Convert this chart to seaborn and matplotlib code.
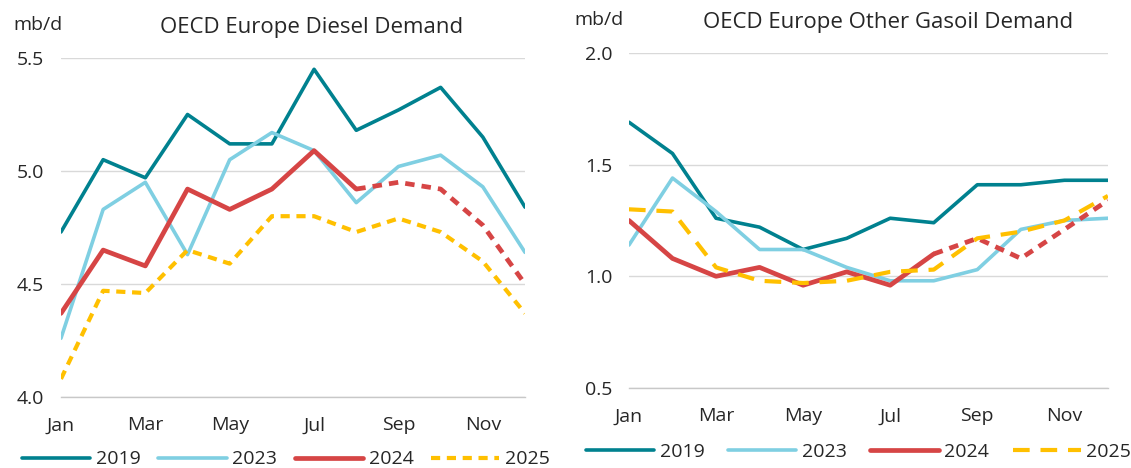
import matplotlib

matplotlib.use("Agg")
import matplotlib.pyplot as plt
import pandas as pd
import seaborn as sns

MONTHS = ["Jan", "Feb", "Mar", "Apr", "May", "Jun",
          "Jul", "Aug", "Sep", "Oct", "Nov", "Dec"]
YEARS = ["2019", "2023", "2024", "2025"]

# OECD Europe diesel demand, mb/d
diesel_2019 = [4.73, 5.05, 4.97, 5.25, 5.12, 5.12, 5.45, 5.18, 5.27, 5.37, 5.15, 4.84]
diesel_2023 = [4.26, 4.83, 4.95, 4.63, 5.05, 5.17, 5.09, 4.86, 5.02, 5.07, 4.93, 4.64]
diesel_2024 = [4.37, 4.65, 4.58, 4.92, 4.83, 4.92, 5.09, 4.92, 4.95, 4.92, 4.76, 4.50]
diesel_2025 = [4.08, 4.47, 4.46, 4.65, 4.59, 4.80, 4.80, 4.73, 4.79, 4.73, 4.60, 4.37]

# OECD Europe other gasoil demand, mb/d
gasoil_2019 = [1.69, 1.55, 1.26, 1.22, 1.12, 1.17, 1.26, 1.24, 1.41, 1.41, 1.43, 1.43]
gasoil_2023 = [1.14, 1.44, 1.29, 1.12, 1.12, 1.04, 0.98, 0.98, 1.03, 1.21, 1.25, 1.26]
gasoil_2024 = [1.25, 1.08, 1.00, 1.04, 0.96, 1.02, 0.96, 1.10, 1.17, 1.08, 1.21, 1.34]
gasoil_2025 = [1.30, 1.29, 1.04, 0.98, 0.97, 0.98, 1.02, 1.03, 1.17, 1.20, 1.25, 1.36]

# 2024 is actual data up to this month, forecast afterwards
LAST_ACTUAL_2024 = 7

COLORS = {"2019": "#00818F", "2023": "#7FCFE2", "2024": "#D64545", "2025": "#FFC000"}
FONT = ["Open Sans", "DejaVu Sans"]


def draw_panel(ax, series, title, yticks, layout):
    x = list(range(len(MONTHS)))
    for year in YEARS:
        df = pd.DataFrame({"month": x, "value": series[year]})
        if year == "2025":
            sns.lineplot(data=df, x="month", y="value", ax=ax, color=COLORS[year],
                         linewidth=3.0, linestyle=(0, layout["dash_2025"]), label=year)
        elif year == "2024":
            actual = df.iloc[: LAST_ACTUAL_2024 + 1]
            forecast = df.iloc[LAST_ACTUAL_2024:]
            sns.lineplot(data=actual, x="month", y="value", ax=ax, color=COLORS[year],
                         linewidth=3.4, label=year)
            sns.lineplot(data=forecast, x="month", y="value", ax=ax, color=COLORS[year],
                         linewidth=3.4, linestyle=(0, (2.0, 1.5)), label="_nolegend_")
        else:
            sns.lineplot(data=df, x="month", y="value", ax=ax, color=COLORS[year],
                         linewidth=2.6, label=year)

    ax.set_xlim(0, len(MONTHS) - 1)
    ax.set_ylim(yticks[0], yticks[-1])
    ax.set_yticks(yticks)
    ax.set_yticklabels([f"{t:.1f}" for t in yticks], fontsize=14, family=FONT)
    ax.set_xticks(x)
    ax.set_xticklabels([m if i % 2 == 0 else "" for i, m in enumerate(MONTHS)],
                       fontsize=14, family=FONT)
    ax.set_xlabel("")
    ax.set_ylabel("")
    ax.grid(axis="y", color="#D9D9D9", linewidth=1.0)
    ax.grid(axis="x", visible=False)
    for side in ["top", "right", "left"]:
        ax.spines[side].set_visible(False)
    ax.spines["bottom"].set_color("#C8C8C8")
    ax.spines["bottom"].set_linewidth(1.0)
    ax.tick_params(axis="x", length=4, color="#C8C8C8", pad=10)
    ax.tick_params(axis="y", length=0, pad=12)
    ax.set_title(title, fontsize=16, family=FONT, x=layout["title_x"], y=1.0, pad=18)
    ax.text(layout["unit_x"], layout["unit_y"], "mb/d", transform=ax.transAxes,
            fontsize=14, family=FONT, ha="left", va="center")

    handles, labels = ax.get_legend_handles_labels()
    ax.legend(handles, labels, loc="center", bbox_to_anchor=(layout["legend_x"], layout["legend_y"]),
              ncol=4, frameon=False, prop={"family": FONT, "size": 14},
              handlelength=3.5, columnspacing=layout["colspace"], handletextpad=0.3)


def main():
    sns.set_theme(style="white")
    plt.rcParams["font.family"] = FONT

    fig = plt.figure(figsize=(11.31, 4.68), dpi=100)
    ax1 = fig.add_axes([0.0539, 0.1517, 0.4103, 0.7244])
    ax2 = fig.add_axes([0.5561, 0.171, 0.4235, 0.7158])

    diesel = {"2019": diesel_2019, "2023": diesel_2023, "2024": diesel_2024, "2025": diesel_2025}
    gasoil = {"2019": gasoil_2019, "2023": gasoil_2023, "2024": gasoil_2024, "2025": gasoil_2025}

    draw_panel(ax1, diesel, "OECD Europe Diesel Demand", [4.0, 4.5, 5.0, 5.5],
               {"title_x": 0.539, "unit_x": -0.103, "unit_y": 1.097, "legend_x": 0.485,
                "legend_y": -0.184, "colspace": 0.9, "dash_2025": (2.2, 1.6)})
    draw_panel(ax2, gasoil, "OECD Europe Other Gasoil Demand", [0.5, 1.0, 1.5, 2.0],
               {"title_x": 0.541, "unit_x": -0.113, "unit_y": 1.0985, "legend_x": 0.48,
                "legend_y": -0.192, "colspace": 1.2, "dash_2025": (4.0, 2.6)})

    fig.savefig("out.png", dpi=100)
    plt.close(fig)


if __name__ == "__main__":
    main()
